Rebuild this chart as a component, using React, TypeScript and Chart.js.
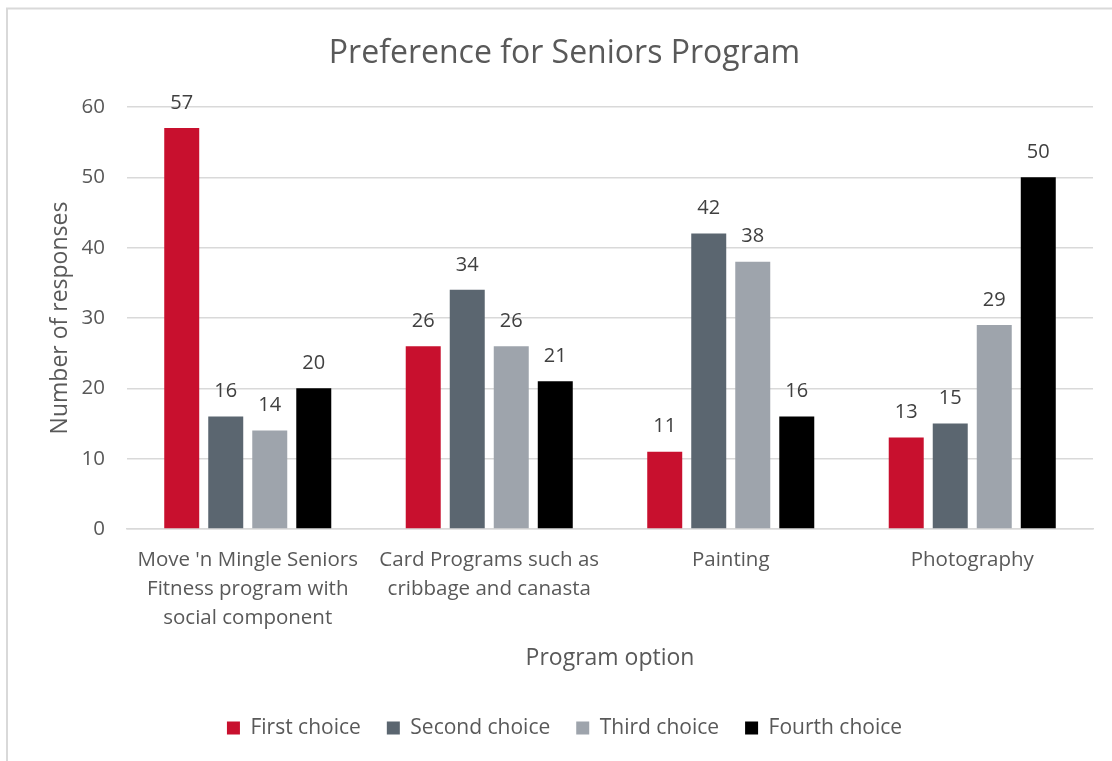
import React, { useEffect, useRef } from "react";
import { Chart, registerables } from "chart.js";

Chart.register(...registerables);

const categories: (string | string[])[] = [
  ["Move 'n Mingle Seniors", "Fitness program with", "social component"],
  ["Card Programs such as", "cribbage and canasta"],
  "Painting",
  "Photography",
];
const firstChoice = [57, 26, 11, 13];
const secondChoice = [16, 34, 42, 15];
const thirdChoice = [14, 26, 38, 29];
const fourthChoice = [20, 21, 16, 50];
const seriesNames = ["First choice", "Second choice", "Third choice", "Fourth choice"];
const seriesColors = ["#C8102E", "#5B6670", "#9EA4AC", "#000000"];
const yTicks = [0, 10, 20, 30, 40, 50, 60];

const FONT = "'Open Sans', 'Noto Sans', sans-serif";
const TEXT = "#595959";

const borderPlugin = {
  id: "frameBorder",
  beforeDraw(chart: any) {
    const { ctx, width, height } = chart;
    ctx.save();
    ctx.fillStyle = "#ffffff";
    ctx.fillRect(0, 0, width, height);
    ctx.strokeStyle = "#d9d9d9";
    ctx.lineWidth = 2;
    ctx.beginPath();
    ctx.moveTo(7, height);
    ctx.lineTo(7, 8.5);
    ctx.lineTo(width, 8.5);
    ctx.stroke();
    ctx.restore();
  },
};

const labelPlugin = {
  id: "valueLabels",
  afterDatasetsDraw(chart: any) {
    const { ctx } = chart;
    ctx.save();
    ctx.font = `20px ${FONT}`;
    ctx.fillStyle = "#404040";
    ctx.textAlign = "center";
    ctx.textBaseline = "middle";
    chart.data.datasets.forEach((ds: any, i: number) => {
      const meta = chart.getDatasetMeta(i);
      meta.data.forEach((bar: any, j: number) => {
        ctx.fillText(String(ds.data[j]), bar.x, bar.y - 25);
      });
    });
    ctx.restore();
  },
};

export default function App() {
  const ref = useRef<HTMLCanvasElement>(null);
  useEffect(() => {
    if (!ref.current) return;
    const seriesData = [firstChoice, secondChoice, thirdChoice, fourthChoice];
    const chart = new Chart(ref.current, {
      type: "bar",
      data: {
        labels: categories,
        datasets: seriesData.map((d, i) => ({
          label: seriesNames[i],
          data: d,
          backgroundColor: seriesColors[i],
          borderWidth: 0,
          categoryPercentage: 0.729,
          barPercentage: 0.795,
        })),
      },
      options: {
        responsive: false,
        animation: false,
        layout: { padding: { left: 36, right: 19, top: 0, bottom: 12.5 } },
        plugins: {
          title: {
            display: true,
            text: "Preference for Seniors Program",
            color: TEXT,
            font: { family: FONT, size: 32, weight: "normal" },
            padding: { top: 35, bottom: 33.6 },
          },
          legend: {
            position: "bottom",
            labels: {
              boxWidth: 13,
              boxHeight: 13,
              padding: 26,
              color: TEXT,
              font: { family: FONT, size: 21 },
            },
          },
          tooltip: { enabled: false },
        },
        scales: {
          x: {
            grid: { display: false, drawTicks: false },
            border: { color: "#d9d9d9", width: 1.5 },
            ticks: {
              color: TEXT,
              font: { family: FONT, size: 20.5, lineHeight: 1.415 },
              padding: 16.5,
              maxRotation: 0,
              autoSkip: false,
            },
            title: {
              display: true,
              text: "Program option",
              color: TEXT,
              font: { family: FONT, size: 23 },
              padding: { top: 0, bottom: 19.7 },
            },
            afterFit(scale: any) {
              scale.height = 162.5;
            },
          },
          y: {
            min: 0,
            max: 60,
            afterBuildTicks(scale: any) {
              scale.ticks = yTicks.map((v) => ({ value: v }));
            },
            grid: { color: "#d9d9d9", lineWidth: 1.5, drawTicks: false },
            border: { display: false },
            ticks: {
              color: TEXT,
              font: { family: FONT, size: 20.5 },
              padding: 22,
            },
            title: {
              display: true,
              text: "Number of responses",
              color: TEXT,
              font: { family: FONT, size: 23 },
              padding: { top: 10.2, bottom: 0 },
            },
            afterFit(scale: any) {
              scale.width = 91;
            },
          },
        },
      },
      plugins: [borderPlugin, labelPlugin],
    });
    return () => chart.destroy();
  }, []);
  return (
    <canvas
      ref={ref}
      width={1112}
      height={761}
      style={{ position: "absolute", left: 0, top: 0, display: "block" }}
    />
  );
}
